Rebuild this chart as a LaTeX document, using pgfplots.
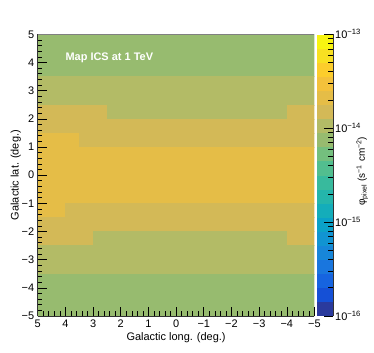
\documentclass[border=0pt]{standalone}
\usepackage{fontspec}
\setmainfont{Liberation Sans}
\usepackage{pgfplots}
\pgfplotsset{compat=1.18}

% ROOT kBird palette, 20 contour levels
\pgfplotsset{
  colormap={rootbird}{
    rgb255=(42,58,157) rgb255=(21,80,214) rgb255=(22,100,224) rgb255=(25,118,222)
    rgb255=(23,134,217) rgb255=(17,148,210) rgb255=(11,161,200) rgb255=(20,173,186)
    rgb255=(36,181,171) rgb255=(56,186,157) rgb255=(82,190,143) rgb255=(116,191,126)
    rgb255=(151,187,111) rgb255=(179,187,102) rgb255=(211,185,87) rgb255=(229,189,71)
    rgb255=(244,193,59) rgb255=(252,205,44) rgb255=(248,224,34) rgb255=(248,244,17)
  },
}

\begin{document}
\begin{tikzpicture}
\useasboundingbox (0,0) rectangle (374bp,353bp);
\begin{axis}[
  name=main,
  at={(37.7bp,37bp)}, anchor=south west,
  scale only axis, width=276.8bp, height=281.7bp,
  xmin=-5, xmax=5, ymin=-5, ymax=5, x dir=reverse,
  enlargelimits=false, axis on top,
  axis x line*=bottom, axis y line*=left,
  axis line style={black!80, line width=0.6bp},
  tick align=inside,
  xtick={-5,-4,...,5}, ytick={-5,-4,...,5},
  xticklabels={−5,−4,−3,−2,−1,0,1,2,3,4,5},
  yticklabels={−5,−4,−3,−2,−1,0,1,2,3,4,5},
  minor x tick num=4, minor y tick num=4,
  major tick length=9bp, minor tick length=4.5bp,
  tick style={black, line width=0.6bp},
  ticklabel style={font=\fontsize{11}{13}\selectfont},
  label style={font=\fontsize{11}{13}\selectfont},
  xlabel={Galactic long. (deg.)}, ylabel={Galactic lat. (deg.)},
  xlabel style={at={(axis description cs:0.5,-0.0763)}, anchor=center},
  ylabel style={at={(axis description cs:-0.0795,0.5)}, anchor=center},
  colormap name=rootbird, colormap access=piecewise constant,
  point meta min=-16, point meta max=-13,
  colorbar right,
  colorbar shift/.style={xshift=2.3bp},
  colorbar style={
    name=cb,
    at={(parent axis.north east)}, anchor=north west,
    scale only axis, width=16.2bp, height=281.7bp,
    axis on top,
    axis line style={draw=none},
    xtick=\empty, ytick pos=right, yticklabel pos=right,
    ytick={-16,-15,-14,-13},
    yticklabels={10\textsuperscript{−16},10\textsuperscript{−15},10\textsuperscript{−14},10\textsuperscript{−13}},
    minor ytick={-15.699,-15.523,-15.398,-15.301,-15.222,-15.155,-15.097,-15.046,
                 -14.699,-14.523,-14.398,-14.301,-14.222,-14.155,-14.097,-14.046,
                 -13.699,-13.523,-13.398,-13.301,-13.222,-13.155,-13.097,-13.046},
    tick align=inside,
    major tick length=9bp, minor tick length=4.5bp,
    major tick style={draw=black, line width=0.6bp},
    minor tick style={draw=black, line width=0.6bp},
    yticklabel style={font=\fontsize{11}{13}\selectfont, inner sep=2bp},
  },
]
% flux per pixel region (s^-1 cm^-2), rectangles in (long, lat)
\addplot[patch, patch type=rectangle, shader=flat corner,
         point meta={log10(\thisrow{flux})}] table {
x y flux
5 3.5 7.5e-15
-5 3.5 7.5e-15
-5 5 7.5e-15
5 5 7.5e-15
5 2.5 1.06e-14
-5 2.5 1.06e-14
-5 3.5 1.06e-14
5 3.5 1.06e-14
5 2 1.5e-14
2.5 2 1.5e-14
2.5 2.5 1.5e-14
5 2.5 1.5e-14
2.5 2 1.06e-14
-4 2 1.06e-14
-4 2.5 1.06e-14
2.5 2.5 1.06e-14
-4 2 1.5e-14
-5 2 1.5e-14
-5 2.5 1.5e-14
-4 2.5 1.5e-14
5 1.5 1.5e-14
-5 1.5 1.5e-14
-5 2 1.5e-14
5 2 1.5e-14
5 1 2.1e-14
3.5 1 2.1e-14
3.5 1.5 2.1e-14
5 1.5 2.1e-14
3.5 1 1.5e-14
-5 1 1.5e-14
-5 1.5 1.5e-14
3.5 1.5 1.5e-14
5 -1 2.1e-14
-5 -1 2.1e-14
-5 1 2.1e-14
5 1 2.1e-14
5 -1.5 2.1e-14
4 -1.5 2.1e-14
4 -1 2.1e-14
5 -1 2.1e-14
4 -1.5 1.5e-14
-5 -1.5 1.5e-14
-5 -1 1.5e-14
4 -1 1.5e-14
5 -2 1.5e-14
-5 -2 1.5e-14
-5 -1.5 1.5e-14
5 -1.5 1.5e-14
5 -2.5 1.5e-14
3 -2.5 1.5e-14
3 -2 1.5e-14
5 -2 1.5e-14
3 -2.5 1.06e-14
-4 -2.5 1.06e-14
-4 -2 1.06e-14
3 -2 1.06e-14
-4 -2.5 1.5e-14
-5 -2.5 1.5e-14
-5 -2 1.5e-14
-4 -2 1.5e-14
5 -3.5 1.06e-14
-5 -3.5 1.06e-14
-5 -2.5 1.06e-14
5 -2.5 1.06e-14
5 -5 7.5e-15
-5 -5 7.5e-15
-5 -3.5 7.5e-15
5 -3.5 7.5e-15
};
\node[anchor=west, inner sep=0pt, text=white,
      font=\bfseries\fontsize{11}{13}\selectfont] at (axis cs:4.0,4.15) {Map ICS at 1 TeV};
\end{axis}
\draw[black!50, line width=0.6bp] (main.north west) -- (main.north east);
\draw[black!80, line width=0.6bp] (cb.north east) -- (cb.south east);
\node[rotate=90, font=\fontsize{10}{12}\selectfont] at ([xshift=47.7bp, yshift=4bp]main.east)
  {φ\textsubscript{pixel} (s\textsuperscript{−1} cm\textsuperscript{−2})};
\end{tikzpicture}
\end{document}
